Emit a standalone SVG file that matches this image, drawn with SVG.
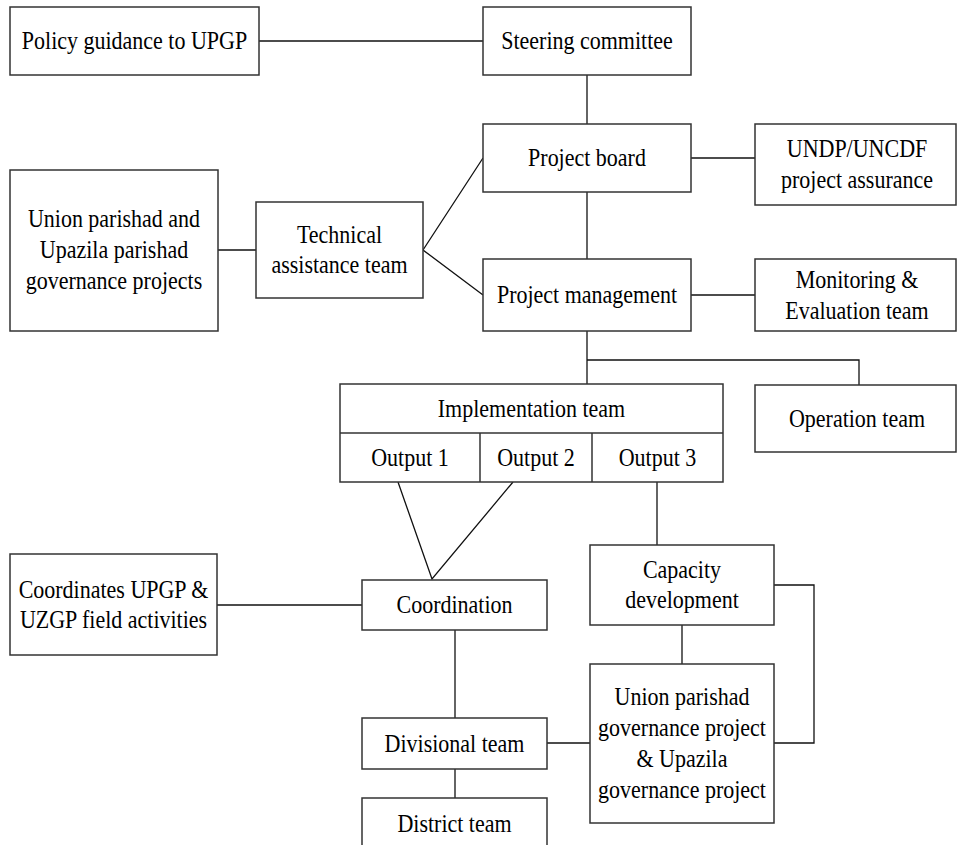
<svg xmlns="http://www.w3.org/2000/svg" width="957" height="845" viewBox="0 0 957 845">
<style>
.box{fill:#fff;stroke:#333;stroke-width:1.5}
.ln{fill:none;stroke:#111;stroke-width:1.3}
text{font-family:"Liberation Serif","Times New Roman",serif;font-size:25px;fill:#000;text-anchor:middle}
</style>
<rect width="957" height="845" fill="#fff"/>
<g id="connectors">
<line class="ln" x1="259" y1="41" x2="483" y2="41"/>
<line class="ln" x1="587" y1="75" x2="587" y2="124"/>
<line class="ln" x1="691" y1="158" x2="755" y2="158"/>
<line class="ln" x1="587" y1="192" x2="587" y2="259"/>
<line class="ln" x1="691" y1="295" x2="755" y2="295"/>
<line class="ln" x1="218" y1="250" x2="256" y2="250"/>
<polyline class="ln" points="483,158 423,250 483,295"/>
<line class="ln" x1="587" y1="331" x2="587" y2="384"/>
<polyline class="ln" points="587,360 859,360 859,385"/>
<polyline class="ln" points="398,482 432,579 513,482"/>
<line class="ln" x1="217" y1="605" x2="362" y2="605"/>
<line class="ln" x1="657" y1="482" x2="657" y2="545"/>
<line class="ln" x1="682" y1="625" x2="682" y2="664"/>
<polyline class="ln" points="774,585 814,585 814,743 774,743"/>
<line class="ln" x1="455" y1="630" x2="455" y2="718"/>
<line class="ln" x1="547" y1="743" x2="590" y2="743"/>
<line class="ln" x1="455" y1="769" x2="455" y2="798"/>
</g>
<g id="policy"><rect class="box" x="10" y="7" width="249" height="68"/><text transform="translate(134.5,49) scale(0.88,1)">Policy guidance to UPGP</text></g>
<g id="steering"><rect class="box" x="483" y="7" width="208" height="68"/><text transform="translate(587,49) scale(0.88,1)">Steering committee</text></g>
<g id="board"><rect class="box" x="483" y="124" width="208" height="68"/><text transform="translate(587,166) scale(0.88,1)">Project board</text></g>
<g id="undp"><rect class="box" x="755" y="124" width="201" height="81"/><text transform="translate(857,157) scale(0.88,1)"><tspan x="0">UNDP/UNCDF</tspan><tspan x="0" dy="31">project assurance</tspan></text></g>
<g id="union-upazila"><rect class="box" x="10" y="170" width="208" height="161"/><text transform="translate(114,227) scale(0.88,1)"><tspan x="0">Union parishad and</tspan><tspan x="0" dy="31">Upazila parishad</tspan><tspan x="0" dy="31">governance projects</tspan></text></g>
<g id="technical"><rect class="box" x="256" y="202" width="167" height="96"/><text transform="translate(339.5,242.5) scale(0.88,1)"><tspan x="0">Technical</tspan><tspan x="0" dy="31">assistance team</tspan></text></g>
<g id="management"><rect class="box" x="483" y="259" width="208" height="72"/><text transform="translate(587,303) scale(0.88,1)">Project management</text></g>
<g id="monitoring"><rect class="box" x="755" y="259" width="201" height="72"/><text transform="translate(857,288) scale(0.88,1)"><tspan x="0">Monitoring &amp;</tspan><tspan x="0" dy="31">Evaluation team</tspan></text></g>
<g id="implementation"><rect class="box" x="340" y="384" width="383" height="98"/><line class="box" x1="340" y1="433" x2="723" y2="433"/><line class="box" x1="480" y1="433" x2="480" y2="482"/><line class="box" x1="592" y1="433" x2="592" y2="482"/><text transform="translate(531.5,417) scale(0.88,1)">Implementation team</text><text transform="translate(410,466) scale(0.88,1)">Output 1</text><text transform="translate(536,466) scale(0.88,1)">Output 2</text><text transform="translate(657.5,466) scale(0.88,1)">Output 3</text></g>
<g id="operation"><rect class="box" x="755" y="385" width="201" height="67"/><text transform="translate(857,427) scale(0.88,1)">Operation team</text></g>
<g id="coordinates"><rect class="box" x="10" y="554" width="207" height="101"/><text transform="translate(113.5,597.5) scale(0.88,1)"><tspan x="0">Coordinates UPGP &amp;</tspan><tspan x="0" dy="31">UZGP field activities</tspan></text></g>
<g id="coordination"><rect class="box" x="362" y="580" width="185" height="50"/><text transform="translate(454.5,613) scale(0.88,1)">Coordination</text></g>
<g id="capacity"><rect class="box" x="590" y="545" width="184" height="80"/><text transform="translate(682,577.5) scale(0.88,1)"><tspan x="0">Capacity</tspan><tspan x="0" dy="31">development</tspan></text></g>
<g id="union-gov"><rect class="box" x="590" y="664" width="184" height="159"/><text transform="translate(682,705) scale(0.88,1)"><tspan x="0">Union parishad</tspan><tspan x="0" dy="31">governance project</tspan><tspan x="0" dy="31">&amp; Upazila</tspan><tspan x="0" dy="31">governance project</tspan></text></g>
<g id="divisional"><rect class="box" x="362" y="718" width="185" height="51"/><text transform="translate(454.5,752) scale(0.88,1)">Divisional team</text></g>
<g id="district"><rect class="box" x="362" y="798" width="185" height="60"/><text transform="translate(454.5,832) scale(0.88,1)">District team</text></g>
</svg>
